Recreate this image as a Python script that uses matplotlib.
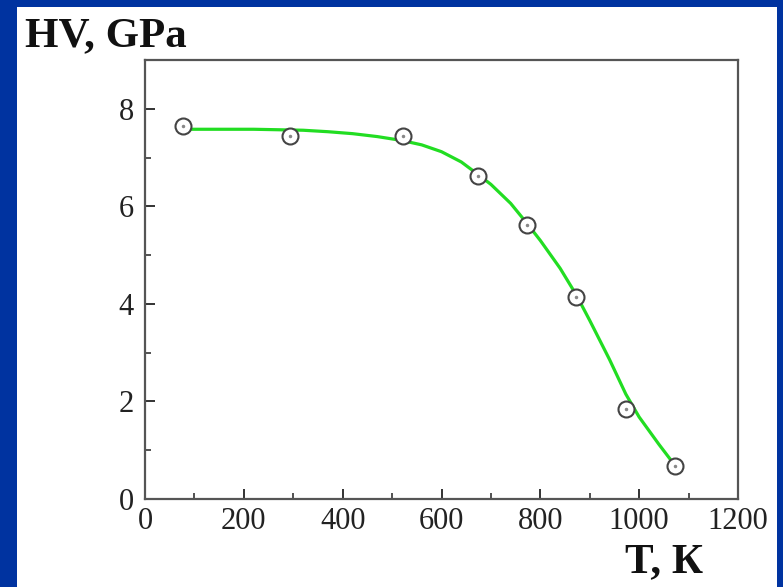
import matplotlib
matplotlib.use("Agg")
import matplotlib.pyplot as plt
from matplotlib.patches import Rectangle
from matplotlib.ticker import MultipleLocator

# Measured points
T_points = [77, 293, 523, 673, 773, 873, 973, 1073]
HV_points = [7.65, 7.45, 7.45, 6.63, 5.62, 4.14, 1.85, 0.68]

# Fitted curve
T_curve = [77, 120, 170, 220, 270, 320, 370, 420, 470, 520, 560, 600, 640,
           673, 700, 740, 773, 800, 840, 873, 900, 940, 973, 1000, 1040, 1073]
HV_curve = [7.58, 7.58, 7.58, 7.58, 7.57, 7.56, 7.53, 7.49, 7.43, 7.35, 7.26, 7.12, 6.91,
            6.66, 6.45, 6.06, 5.65, 5.30, 4.73, 4.18, 3.66, 2.86, 2.15, 1.68, 1.12, 0.68]

x_ticks = [0, 200, 400, 600, 800, 1000, 1200]
y_ticks = [0, 2, 4, 6, 8]

plt.rcParams['font.family'] = ['Liberation Serif', 'DejaVu Serif']

fig = plt.figure(figsize=(7.83, 5.87), dpi=100)
fig.patch.set_facecolor('#0033a0')
panel = Rectangle((17 / 783, 0), (777 - 17) / 783, 1 - 7 / 587,
                  transform=fig.transFigure, facecolor='white',
                  edgecolor='none', zorder=-10)
fig.add_artist(panel)

ax = fig.add_axes([145 / 783, 1 - 499 / 587, (738 - 145) / 783, (499 - 60) / 587])
ax.set_zorder(5)
ax.set_facecolor('white')

ax.plot(T_curve, HV_curve, color='#22dd22', lw=2.3, zorder=2,
        solid_capstyle='round', solid_joinstyle='round')
ax.plot(T_points, HV_points, linestyle='none', marker='o', ms=11.5,
        mfc='white', mec='#444444', mew=1.5, zorder=3)
ax.plot(T_points, HV_points, linestyle='none', marker='o', ms=1.5,
        mfc='#888888', mec='#888888', zorder=4)

ax.set_xlim(0, 1200)
ax.set_ylim(0, 9)
ax.set_xticks(x_ticks)
ax.set_yticks(y_ticks)
ax.xaxis.set_minor_locator(MultipleLocator(100))
ax.yaxis.set_minor_locator(MultipleLocator(1))

for s in ax.spines.values():
    s.set_color('#555555')
    s.set_linewidth(1.6)

ax.tick_params(which='both', direction='in', color='#333333', labelsize=22,
               labelcolor='#222222')
ax.tick_params(which='major', length=7, width=1.4, pad=8)
ax.tick_params(which='minor', length=4, width=1.2)
ax.tick_params(axis='x', which='major', pad=6)

fig.text(25 / 783, 1 - 46 / 587, 'HV, GPa', fontsize=31, fontweight='bold',
         color='#111111', ha='left', va='baseline')
fig.text(703 / 783, 1 - 572 / 587, 'T, К', fontsize=31, fontweight='bold',
         color='#111111', ha='right', va='baseline')

fig.savefig('out.png', dpi=100, facecolor=fig.get_facecolor())
